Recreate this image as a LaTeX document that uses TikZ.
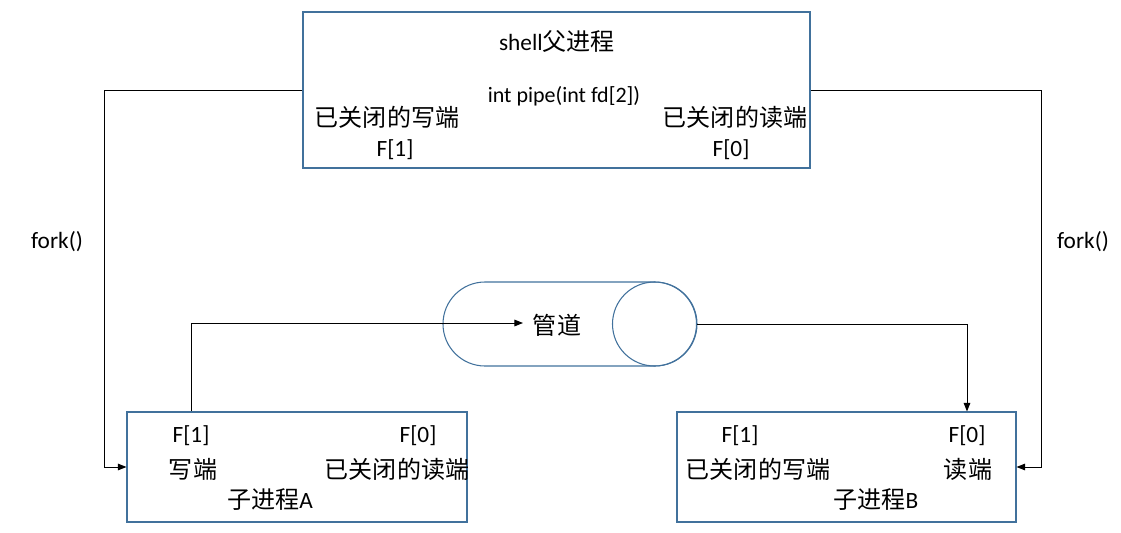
\documentclass[tikz,border=0pt]{standalone}
\usepackage{fontspec}
\setmainfont{Carlito}
\newfontfamily\cjk[Scale=1.03]{Noto Sans CJK SC}
\usetikzlibrary{arrows.meta, calc, positioning}
\definecolor{boxBlue}{HTML}{41719C}

\begin{document}
\begin{tikzpicture}[x=0.75pt, y=-0.75pt, >={Triangle[length=6.5pt, width=5pt]},
    proc/.style={draw=boxBlue, line width=0.8pt, inner sep=0pt},
    lbl/.style={inner sep=0pt, font=\fontsize{17.5}{21}\selectfont},
    small/.style={inner sep=0pt, font=\fontsize{16.5}{20}\selectfont},
    link/.style={draw=black, line width=0.75pt}]
    \useasboundingbox (0,0) rectangle (1121,532);

    % parent process
    \node[proc, minimum width=380.25pt, minimum height=117pt] (shell) at (556.5,90) {};
    \node[lbl] (shellName) at (557,41) {shell{\cjk 父进程}};
    \node[small] (pipeCall) at (564,96) {int pipe(int fd[2])};
    \node[lbl] (pWrite) at (387,117) {\cjk 已关闭的写端};
    \node[lbl] (pF1) at (395,150) {F[1]};
    \node[lbl] (pRead) at (735,117) {\cjk 已关闭的读端};
    \node[lbl] (pF0) at (731,150) {F[0]};

    % child processes
    \node[proc, minimum width=255pt, minimum height=82.5pt] (childA) at (297,467) {};
    \node[lbl] (aF1) at (191,436) {F[1]};
    \node[lbl] (aWrite) at (193,469) {\cjk 写端};
    \node[lbl] (aF0) at (418,436) {F[0]};
    \node[lbl] (aRead) at (397,469) {\cjk 已关闭的读端};
    \node[lbl] (aName) at (270,500) {{\cjk 子进程}A};

    \node[proc, minimum width=254.25pt, minimum height=82.5pt] (childB) at (846.5,467) {};
    \node[lbl] (bF1) at (740,436) {F[1]};
    \node[lbl] (bWrite) at (758,469) {\cjk 已关闭的写端};
    \node[lbl] (bF0) at (967,436) {F[0]};
    \node[lbl] (bRead) at (968,469) {\cjk 读端};
    \node[lbl] (bName) at (876,500) {{\cjk 子进程}B};

    % pipe
    \node[proc, minimum width=190.5pt, minimum height=63pt, rounded corners=31.5pt] (pipe) at (570,324) {};
    \node[proc, circle, minimum size=63pt] (pipeEnd) at (654.5,324) {};
    \node[lbl] (pipeName) at (557,325) {\cjk 管道};

    % fork
    \coordinate (forkL) at (104,90);
    \coordinate (forkR) at (1041,90);
    \draw[link, ->] (shell.west) -- (forkL) |- (childA.west);
    \draw[link, ->] (shell.east) -- (forkR) |- (childB.east);
    \node[lbl] (forkLName) at (57,242) {fork()};
    \node[lbl] (forkRName) at (1083,242) {fork()};

    % data flow through the pipe
    \coordinate (pipeIn) at (523,323);
    \draw[link, ->] (aF1 |- childA.north) |- (pipeIn);
    \draw[link, ->] (pipeEnd.east) -| (bF0 |- childB.north);
\end{tikzpicture}
\end{document}
